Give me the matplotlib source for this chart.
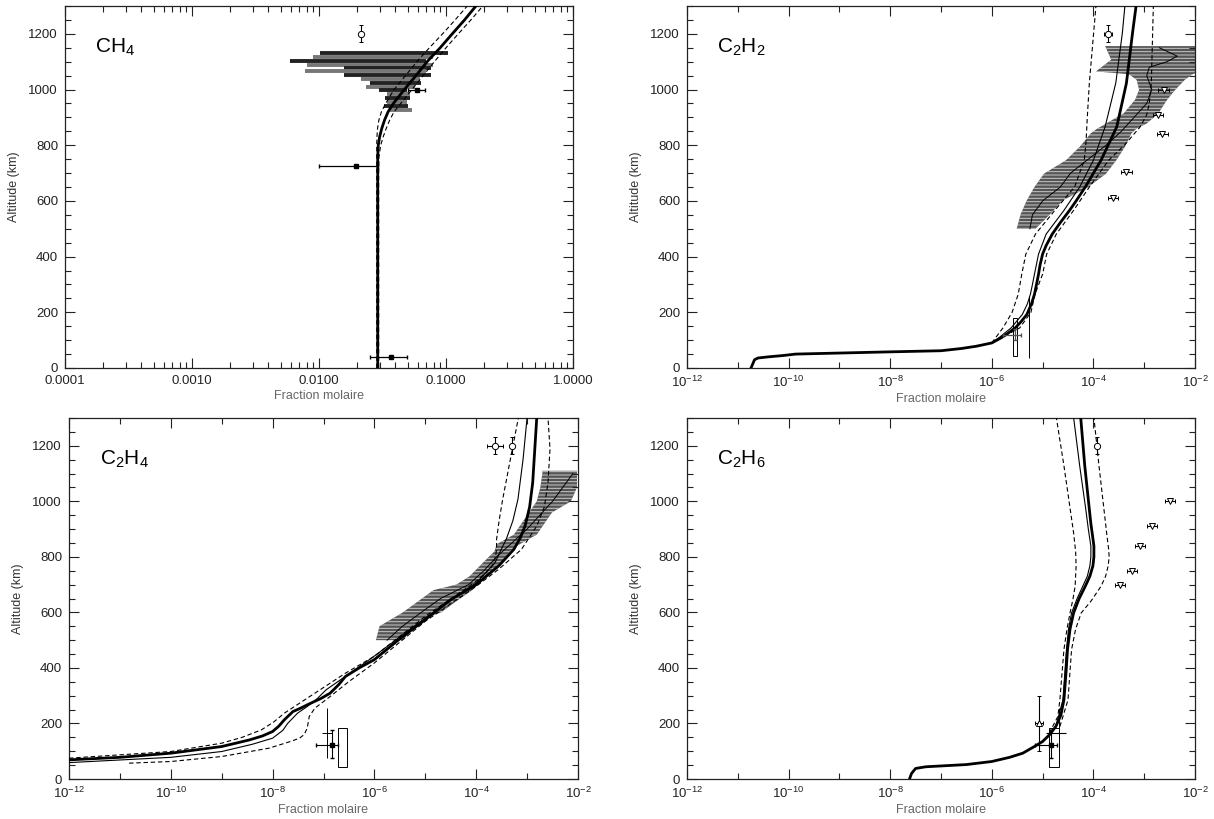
import numpy as np
import matplotlib
matplotlib.use("Agg")
import matplotlib.pyplot as plt

plt.rcParams['font.family'] = ['Liberation Sans', 'DejaVu Sans']
plt.rcParams['mathtext.default'] = 'regular'
plt.rcParams['hatch.linewidth'] = 0.7

# ---------------- CH4 ----------------
ch4_alt = [0, 200, 400, 600, 700, 760, 800, 830, 860, 890, 920, 950, 1000, 1050, 1100, 1150, 1200, 1250, 1300]
ch4_nom = [0.029, 0.029, 0.029, 0.029, 0.029, 0.029, 0.0293, 0.0300, 0.0312, 0.0328, 0.035, 0.0385, 0.047, 0.058, 0.071, 0.090, 0.112, 0.14, 0.172]
ch4_low = [0.0285, 0.0285, 0.0285, 0.0285, 0.0285, 0.0285, 0.0285, 0.0286, 0.0289, 0.0296, 0.031, 0.0335, 0.039, 0.048, 0.059, 0.074, 0.094, 0.118, 0.147]
ch4_high = [0.0295, 0.0295, 0.0295, 0.0295, 0.0295, 0.0297, 0.0306, 0.032, 0.0338, 0.036, 0.039, 0.044, 0.054, 0.066, 0.081, 0.100, 0.125, 0.157, 0.195]

# INMS-like bars: altitude, left, right
ch4_bar_alt = [1130, 1116, 1102, 1088, 1076, 1068, 1052, 1037, 1022, 1008, 998, 984, 968, 956, 941, 926]
ch4_bar_lo = [0.0101, 0.0090, 0.0059, 0.0080, 0.0158, 0.0077, 0.0158, 0.0213, 0.0254, 0.0233, 0.0295, 0.0343, 0.0333, 0.0343, 0.0323, 0.0364]
ch4_bar_hi = [0.103, 0.079, 0.070, 0.079, 0.0766, 0.070, 0.0766, 0.062, 0.064, 0.0568, 0.049, 0.052, 0.052, 0.049, 0.0505, 0.0535]

ch4_circ = (0.0213, 1200)
ch4_sq_x = [0.0196, 0.059, 0.037]
ch4_sq_z = [725, 1000, 40]
ch4_sq_lo = [0.0100, 0.050, 0.0253]
ch4_sq_hi = [0.029, 0.068, 0.0497]

# ---------------- C2H2 (log10 mixing ratio) ----------------
c2h2_alt = [0, 30, 36, 40, 45, 50, 58, 62, 70, 78, 90, 110, 125, 144, 165, 192, 230, 265, 300, 337, 370, 409, 440, 481, 520, 566, 600, 650, 746, 866, 1023, 1203, 1300]
c2h2_nom = [-10.74, -10.67, -10.6, -10.4, -10.1, -9.86, -8.0, -7.0, -6.6, -6.31, -6.0, -5.8, -5.68, -5.54, -5.43, -5.31, -5.22, -5.16, -5.12, -5.08, -5.05, -5.0, -4.93, -4.81, -4.66, -4.47, -4.34, -4.16, -3.85, -3.54, -3.35, -3.23, -3.16]
c2h2_thin_alt = [90, 110, 144, 192, 230, 265, 300, 337, 409, 481, 566, 650, 746, 866, 1023, 1203, 1300]
c2h2_thin = [-6.0, -5.85, -5.62, -5.4, -5.3, -5.24, -5.2, -5.16, -5.08, -4.93, -4.58, -4.27, -4.0, -3.77, -3.56, -3.43, -3.38]
c2h2_dlo_alt = [90, 110, 144, 200, 265, 337, 409, 481, 566, 650, 746, 800, 830, 900, 1023, 1300]
c2h2_dlo = [-6.0, -5.92, -5.78, -5.6, -5.48, -5.41, -5.33, -5.14, -4.76, -4.37, -4.18, -4.15, -4.14, -4.12, -4.08, -3.95]
c2h2_dhi_alt = [90, 144, 200, 265, 337, 409, 481, 566, 650, 746, 800, 866, 910, 950, 1023, 1300]
c2h2_dhi = [-6.0, -5.45, -5.23, -5.15, -5.0, -4.92, -4.73, -4.39, -4.08, -3.7, -3.39, -3.08, -2.95, -2.9, -2.86, -2.82]

c2h2_band_alt = [500, 553, 602, 650, 698, 746, 794, 843, 860, 878, 915, 963, 999, 1035, 1055, 1065, 1107, 1149, 1156]
c2h2_band_lo = [-5.51, -5.43, -5.31, -5.16, -4.97, -4.54, -4.27, -4.05, -3.92, -3.75, -3.40, -3.18, -3.10, -3.15, -3.30, -3.95, -3.65, -3.75, -3.77]
c2h2_band_hi = [-5.14, -4.85, -4.60, -4.10, -3.75, -3.55, -3.38, -3.25, -3.15, -2.95, -2.72, -2.55, -2.39, -2.20, -2.05, -1.9, -1.9, -1.9, -1.9]
c2h2_prof_alt = [500, 550, 600, 650, 700, 750, 800, 850, 900, 950, 1000, 1050, 1080, 1100, 1120, 1150]
c2h2_prof = [-5.25, -5.2, -5.0, -4.65, -4.45, -4.1, -3.75, -3.45, -3.2, -2.95, -2.85, -2.95, -2.9, -2.55, -2.35, -2.7]

c2h2_tri_x = [-2.62, -2.73, -2.64, -3.35, -3.62]
c2h2_tri_z = [1000, 910, 840, 705, 612]
c2h2_circ = (-3.72, 1200)
c2h2_box = (-5.58, -5.50, 42, 180)

# ---------------- C2H4 ----------------
c2h4_alt = [69, 78, 93, 117, 130, 141, 155, 171, 190, 213, 243, 255, 267, 290, 309, 340, 369, 400, 430, 502, 574, 646, 700, 767, 827, 870, 911, 980, 1067, 1302]
c2h4_nom = [-12.0, -11.0, -10.0, -9.0, -8.7, -8.45, -8.2, -8.0, -7.88, -7.77, -7.6, -7.45, -7.32, -7.05, -6.87, -6.7, -6.57, -6.3, -6.0, -5.52, -5.0, -4.50, -4.0, -3.56, -3.26, -3.13, -3.04, -2.95, -2.89, -2.81]
c2h4_thin_alt = [59, 78, 99, 125, 147, 175, 201, 237, 261, 290, 321, 436, 580, 706, 779, 830, 863, 930, 1007, 1150, 1302]
c2h4_thin = [-12.0, -10.0, -9.0, -8.4, -8.0, -7.8, -7.7, -7.51, -7.32, -7.12, -6.95, -6.05, -5.0, -4.0, -3.63, -3.5, -3.41, -3.28, -3.18, -3.08, -3.0]
c2h4_dup_alt = [75, 99, 129, 150, 177, 205, 237, 291, 381, 442, 586, 712, 760, 800, 827, 863, 930, 1007, 1188, 1302]
c2h4_dup = [-12.0, -10.0, -9.0, -8.6, -8.22, -7.98, -7.77, -7.32, -6.57, -6.0, -5.0, -4.0, -3.71, -3.62, -3.6, -3.6, -3.55, -3.48, -3.29, -3.17]
c2h4_dlo_alt = [57, 63, 81, 111, 135, 147, 160, 183, 225, 255, 297, 351, 418, 568, 694, 755, 827, 911, 980, 1067, 1188, 1302]
c2h4_dlo = [-10.82, -10.0, -9.0, -8.07, -7.65, -7.47, -7.38, -7.32, -7.28, -7.17, -6.87, -6.5, -6.0, -5.0, -4.0, -3.56, -3.11, -2.81, -2.66, -2.59, -2.55, -2.59]

c2h4_band_alt = [500, 550, 575, 600, 640, 680, 700, 730, 780, 820, 845, 880, 920, 960, 1000, 1050, 1100, 1110]
c2h4_band_lo = [-5.97, -5.90, -5.67, -5.44, -5.14, -4.84, -4.39, -4.13, -3.86, -3.64, -3.60, -3.26, -3.11, -2.96, -2.81, -2.74, -2.70, -2.70]
c2h4_band_hi = [-5.44, -5.20, -5.08, -4.69, -4.39, -4.08, -3.97, -3.78, -3.49, -3.34, -3.15, -2.81, -2.66, -2.51, -2.14, -2.02, -2.02, -2.02]
c2h4_prof_alt = [500, 550, 600, 650, 700, 750, 800, 850, 900, 950, 1000, 1050, 1100]
c2h4_prof = [-5.75, -5.45, -5.08, -4.7, -4.15, -3.85, -3.6, -3.3, -3.0, -2.75, -2.5, -2.3, -2.1]
c2h4_circ_x = [-3.63, -3.30]
c2h4_box = (-6.72, -6.53, 45, 183)
c2h4_pt = (-6.83, 123)

# ---------------- C2H6 ----------------
c2h6_alt = [0, 20, 38, 44, 47, 52, 63, 78, 93, 115, 135, 160, 189, 230, 285, 380, 466, 540, 598, 650, 694, 730, 767, 800, 839, 880, 920, 971, 1128, 1302]
c2h6_nom = [-7.62, -7.58, -7.50, -7.3, -7.0, -6.5, -6.0, -5.65, -5.39, -5.18, -5.0, -4.86, -4.74, -4.64, -4.58, -4.54, -4.51, -4.46, -4.39, -4.28, -4.16, -4.07, -4.01, -3.99, -3.99, -4.02, -4.05, -4.08, -4.17, -4.25]
c2h6_thin_alt = [189, 285, 466, 540, 598, 650, 694, 730, 767, 800, 839, 900, 971, 1128, 1302]
c2h6_thin = [-4.74, -4.60, -4.53, -4.49, -4.43, -4.32, -4.21, -4.12, -4.07, -4.05, -4.05, -4.1, -4.15, -4.27, -4.39]
c2h6_dlo_alt = [165, 225, 285, 466, 540, 598, 650, 694, 767, 820, 887, 1128, 1302]
c2h6_dlo = [-4.87, -4.70, -4.66, -4.58, -4.52, -4.46, -4.40, -4.36, -4.34, -4.35, -4.39, -4.58, -4.73]
c2h6_dhi_alt = [189, 285, 466, 540, 598, 640, 694, 730, 767, 800, 827, 887, 1128, 1302]
c2h6_dhi = [-4.66, -4.50, -4.43, -4.35, -4.24, -4.05, -3.85, -3.76, -3.71, -3.69, -3.70, -3.74, -3.89, -3.99]
c2h6_tri_x = [-2.50, -2.85, -3.08, -3.24, -3.48]
c2h6_tri_z = [1000, 910, 840, 750, 700]
c2h6_circ = (-3.93, 1200)
c2h6_box = (-4.87, -4.68, 45, 183)
c2h6_up = (-5.07, 200)
c2h6_pt = (-4.84, 123)

W, H = 1214, 819


def px_axes(fig, x0, x1, y0, y1):
    return fig.add_axes([x0 / W, 1 - y1 / H, (x1 - x0) / W, (y1 - y0) / H])


def style(ax, title, wide=True):
    ax.set_xscale('log')
    ax.set_ylim(0, 1300)
    ax.set_yticks(range(0, 1201, 200))
    ax.set_yticks(range(0, 1301, 50), minor=True)
    if wide:
        ax.set_xlim(1e-12, 1e-2)
        maj = [10.0 ** e for e in range(-12, -1, 2)]
        ax.set_xticks(maj, ['$10^{%d}$' % e for e in range(-12, -1, 2)])
        ax.set_xticks([10.0 ** e for e in range(-11, -2, 2)], minor=True)
        ax.xaxis.set_minor_formatter(plt.NullFormatter())
    else:
        ax.set_xlim(1e-4, 1)
        ax.set_xticks([1e-4, 1e-3, 1e-2, 1e-1, 1], ['0.0001', '0.0010', '0.0100', '0.1000', '1.0000'])
    ax.tick_params(which='both', direction='in', top=True, right=True, labelsize=9.5,
                   colors='#222', width=0.8)
    ax.tick_params(which='major', length=7, pad=5)
    ax.tick_params(which='minor', length=4)
    for s in ax.spines.values():
        s.set_linewidth(0.9)
        s.set_color('#222')
    ax.set_xlabel('Fraction molaire', fontsize=9, color='#666', labelpad=2)
    ax.set_ylabel('Altitude (km)', fontsize=9, color='#333', labelpad=6)
    ax.text(0.06, 0.885, title, transform=ax.transAxes, fontsize=15, va='center')


def band(ax, alt, lo, hi, prof_alt, prof):
    ax.fill_betweenx(alt, 10.0 ** np.array(lo), 10.0 ** np.array(hi), facecolor='#555555',
                     edgecolor='#c8c8c8', hatch='-----', linewidth=0, zorder=1)
    ax.plot(10.0 ** np.array(prof), prof_alt, color='k', lw=0.7, zorder=2)


def curves(ax, nom, thin, dlo, dhi):
    ax.plot(10.0 ** np.array(nom[1]), nom[0], color='k', lw=2.0, zorder=3)
    ax.plot(10.0 ** np.array(thin[1]), thin[0], color='k', lw=0.8, zorder=3)
    for d in (dlo, dhi):
        ax.plot(10.0 ** np.array(d[1]), d[0], color='k', lw=0.8, ls=(0, (4, 2.5)), zorder=3)


def box(ax, b):
    ax.add_patch(plt.Rectangle((10 ** b[0], b[2]), 10 ** b[1] - 10 ** b[0], b[3] - b[2],
                               fill=False, ec='k', lw=0.7, zorder=4))


def triangles(ax, xs, zs):
    x = 10.0 ** np.array(xs)
    ax.errorbar(x, zs, xerr=[x - x / 10 ** 0.1, x * 10 ** 0.1 - x], fmt='v', ms=5, mfc='white',
                mec='k', mew=0.7, ecolor='k', elinewidth=0.8, capsize=1.5, zorder=5)


def circle(ax, x, z, dx=0.0):
    x = 10 ** x
    xe = None if dx == 0 else [[x - x / 10 ** dx], [x * 10 ** dx - x]]
    ax.errorbar([x], [z], xerr=xe, yerr=30, fmt='o', ms=4.5, mfc='white', mec='k', mew=0.7,
                ecolor='k', elinewidth=0.8, capsize=1.5, zorder=5)


fig = plt.figure(figsize=(W / 100, H / 100), dpi=100)

# CH4
ax = px_axes(fig, 65, 573, 6, 368)
style(ax, 'CH$_4$', wide=False)
for i, (z, lo, hi) in enumerate(zip(ch4_bar_alt, ch4_bar_lo, ch4_bar_hi)):
    ax.hlines(z, lo, hi, color='#222' if i % 2 == 0 else '#777', lw=2.8, zorder=1)
ax.plot(ch4_nom, ch4_alt, color='k', lw=2.0, zorder=3)
ax.plot(ch4_low, ch4_alt, color='k', lw=0.8, ls=(0, (4, 2.5)), zorder=3)
ax.plot(ch4_high, ch4_alt, color='k', lw=0.8, ls=(0, (4, 2.5)), zorder=3)
x = np.array(ch4_sq_x)
ax.errorbar(x, ch4_sq_z, xerr=[x - np.array(ch4_sq_lo), np.array(ch4_sq_hi) - x], fmt='s', ms=3,
            color='k', elinewidth=0.9, capsize=1.5, zorder=5)
circle(ax, np.log10(ch4_circ[0]), ch4_circ[1])

# C2H2
ax = px_axes(fig, 687, 1195, 6, 368)
style(ax, 'C$_2$H$_2$')
band(ax, c2h2_band_alt, c2h2_band_lo, c2h2_band_hi, c2h2_prof_alt, c2h2_prof)
curves(ax, (c2h2_alt, c2h2_nom), (c2h2_thin_alt, c2h2_thin),
       (c2h2_dlo_alt, c2h2_dlo), (c2h2_dhi_alt, c2h2_dhi))
triangles(ax, c2h2_tri_x, c2h2_tri_z)
circle(ax, c2h2_circ[0], c2h2_circ[1], 0.08)
box(ax, c2h2_box)
ax.vlines(10 ** -5.27, 36, 259, color='k', lw=0.7, zorder=4)
cx = 10 ** -5.54
ax.errorbar([cx], [120], xerr=[[cx - 10 ** -5.78], [10 ** -5.43 - cx]],
            yerr=[[20], [20]], fmt='none', ecolor='#555', elinewidth=0.9, capsize=1.5, zorder=4)

# C2H4
ax = px_axes(fig, 69, 578, 418, 779)
style(ax, 'C$_2$H$_4$')
band(ax, c2h4_band_alt, c2h4_band_lo, c2h4_band_hi, c2h4_prof_alt, c2h4_prof)
curves(ax, (c2h4_alt, c2h4_nom), (c2h4_thin_alt, c2h4_thin),
       (c2h4_dup_alt, c2h4_dup), (c2h4_dlo_alt, c2h4_dlo))
circle(ax, c2h4_circ_x[0], 1200, 0.15)
circle(ax, c2h4_circ_x[1], 1200)
box(ax, c2h4_box)
px = 10 ** c2h4_pt[0]
ax.errorbar([px], [c2h4_pt[1]], xerr=[[px - 10 ** -7.14], [10 ** -6.71 - px]], yerr=[[46], [54]],
            fmt='s', ms=3, color='k', elinewidth=0.8, capsize=1.5, zorder=5)
ax.vlines(10 ** -6.93, 74, 255, color='k', lw=0.7, zorder=4)
ax.hlines(165, 10 ** -7.03, 10 ** -6.83, color='k', lw=0.7, zorder=4)

# C2H6
ax = px_axes(fig, 687, 1195, 418, 779)
style(ax, 'C$_2$H$_6$')
curves(ax, (c2h6_alt, c2h6_nom), (c2h6_thin_alt, c2h6_thin),
       (c2h6_dlo_alt, c2h6_dlo), (c2h6_dhi_alt, c2h6_dhi))
triangles(ax, c2h6_tri_x, c2h6_tri_z)
circle(ax, c2h6_circ[0], c2h6_circ[1])
box(ax, c2h6_box)
ux = 10 ** c2h6_up[0]
ax.errorbar([ux], [c2h6_up[1]], xerr=[[ux - ux / 10 ** 0.08], [ux * 10 ** 0.08 - ux]], yerr=100,
            fmt='^', ms=4.5, mfc='white', mec='k', mew=0.7, ecolor='k', elinewidth=0.8,
            capsize=1.5, zorder=5)
px = 10 ** c2h6_pt[0]
ax.errorbar([px], [c2h6_pt[1]], xerr=[[px - 10 ** -5.15], [10 ** -4.72 - px]], yerr=[[46], [54]],
            fmt='s', ms=3, color='k', elinewidth=0.8, capsize=1.5, zorder=5)
ax.vlines(10 ** -4.68, 100, 255, color='k', lw=0.7, zorder=4)
ax.hlines(165, 10 ** -4.93, 10 ** -4.54, color='k', lw=0.8, zorder=4)

fig.savefig('out.png', dpi=100)
